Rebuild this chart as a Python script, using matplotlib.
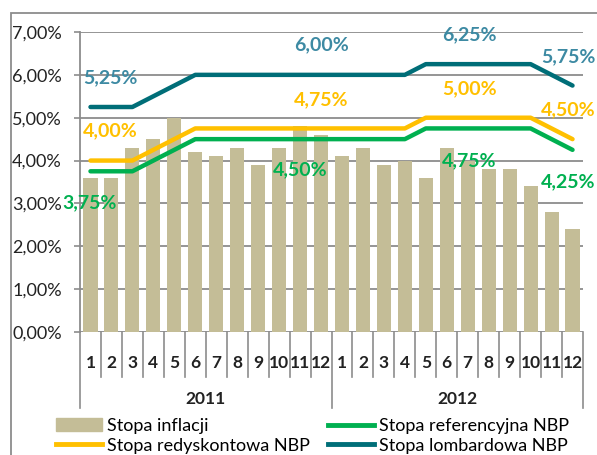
import matplotlib.pyplot as plt
import matplotlib.patches as mpatches
from matplotlib.lines import Line2D
from matplotlib.ticker import FuncFormatter

plt.rcParams['font.family'] = ['Lato', 'DejaVu Sans']

# %%
# Data
months = [str(m) for m in range(1, 13)] * 2
years = ['2011', '2012']
inflacja = [3.6, 3.6, 4.3, 4.5, 5.0, 4.2, 4.1, 4.3, 3.9, 4.3, 4.8, 4.6,
            4.1, 4.3, 3.9, 4.0, 3.6, 4.3, 4.0, 3.8, 3.8, 3.4, 2.8, 2.4]
referencyjna = [3.75, 3.75, 3.75, 4.00, 4.25, 4.50, 4.50, 4.50, 4.50, 4.50, 4.50, 4.50,
                4.50, 4.50, 4.50, 4.50, 4.75, 4.75, 4.75, 4.75, 4.75, 4.75, 4.50, 4.25]
redyskontowa = [r + 0.25 for r in referencyjna]
lombardowa = [r + 1.5 for r in referencyjna]

# value label texts
lab_lomb = ['5,25%', '6,00%', '6,25%', '5,75%']
lab_redy = ['4,00%', '4,75%', '5,00%', '4,50%']
lab_ref = ['3,75%', '4,50%', '4,75%', '4,25%']

# %%
c_bar = '#C4BD97'
c_lomb = '#006E78'
c_lomb_txt = '#3D8AA3'
c_redy = '#FFC000'
c_ref = '#00B050'
c_grid = '#8C8C8C'

fig = plt.figure(figsize=(5.97, 4.55), dpi=100)
W, H = 597, 455
ax = fig.add_axes([80 / W, 1 - 332 / H, 503 / W, 300 / H])

x = list(range(len(inflacja)))
ax.bar(x, inflacja, width=0.67, color=c_bar, zorder=2)
ax.plot(x, referencyjna, color=c_ref, lw=3.2, solid_capstyle='round', zorder=3)
ax.plot(x, redyskontowa, color=c_redy, lw=3.2, solid_capstyle='round', zorder=3)
ax.plot(x, lombardowa, color=c_lomb, lw=3.2, solid_capstyle='round', zorder=3)

ax.set_xlim(-0.5, len(x) - 0.5)
ax.set_ylim(0, 7)
ax.set_yticks(range(0, 8))
ax.yaxis.set_major_formatter(FuncFormatter(lambda v, _: f'{v:.2f}%'.replace('.', ',')))
ax.tick_params(axis='y', length=4, width=1.2, color=c_grid, labelsize=13, pad=9,
               labelcolor='#222222')
ax.set_xticks([])
ax.grid(axis='y', color=c_grid, lw=1.3, zorder=0)
for s in ['top', 'right', 'bottom']:
    ax.spines[s].set_visible(False)
ax.spines['left'].set_color(c_grid)
ax.spines['left'].set_linewidth(1.3)

# category axis: month numbers, separators, years
tr = ax.get_xaxis_transform()
for i, m in enumerate(months):
    ax.text(i, -0.105, m, transform=tr, ha='center', va='center',
            fontsize=12.5, fontweight='bold', color='#222222')
for k in range(len(x) + 1):
    bottom = -0.253 if k % 12 == 0 else -0.15
    ax.plot([k - 0.5, k - 0.5], [0, bottom], transform=tr, color=c_grid,
            lw=1.2, clip_on=False)
for j, yr in enumerate(years):
    ax.text(j * 12 + 5.5, -0.225, yr, transform=tr, ha='center', va='center',
            fontsize=12.5, fontweight='bold', color='#222222')

# value labels (left edge x in category units, y in % units)
def put(texts, xs, ys, color):
    for t, xx, yy in zip(texts, xs, ys):
        ax.text(xx, yy, t, ha='left', va='center', fontsize=14, fontweight='bold',
                color=color, zorder=5, clip_on=False)

put(lab_lomb, [-0.36, 9.71, 16.77, 21.5], [5.93, 6.70, 6.93, 6.42], c_lomb_txt)
put(lab_redy, [-0.36, 9.71, 16.77, 21.5], [4.69, 5.41, 5.67, 5.18], c_redy)
put(lab_ref, [-1.36, 8.71, 16.77, 21.5], [3.01, 3.78, 3.99, 3.50], c_ref)

# legend
h1 = [mpatches.Patch(color=c_bar), Line2D([], [], color=c_redy, lw=3.5)]
h2 = [Line2D([], [], color=c_ref, lw=3.5), Line2D([], [], color=c_lomb, lw=3.5)]
kw = dict(frameon=False, fontsize=13, handlelength=2.55, handletextpad=0.3,
          labelspacing=0.2, borderpad=0, borderaxespad=0, loc='upper left')
fig.legend(h1, ['Stopa inflacji', 'Stopa redyskontowa NBP'],
           bbox_to_anchor=(56 / W, 1 - 418 / H), **kw)
fig.legend(h2, ['Stopa referencyjna NBP', 'Stopa lombardowa NBP'],
           bbox_to_anchor=(328 / W, 1 - 418 / H), **kw)

# outer chart border (cropped)
fig.patches.append(mpatches.Rectangle((11 / W, -0.5), 2, 1 - 13 / H + 0.5,
                                      transform=fig.transFigure, fill=False,
                                      edgecolor='#8C8C8C', lw=1.3))

fig.savefig('out.png', dpi=100)
